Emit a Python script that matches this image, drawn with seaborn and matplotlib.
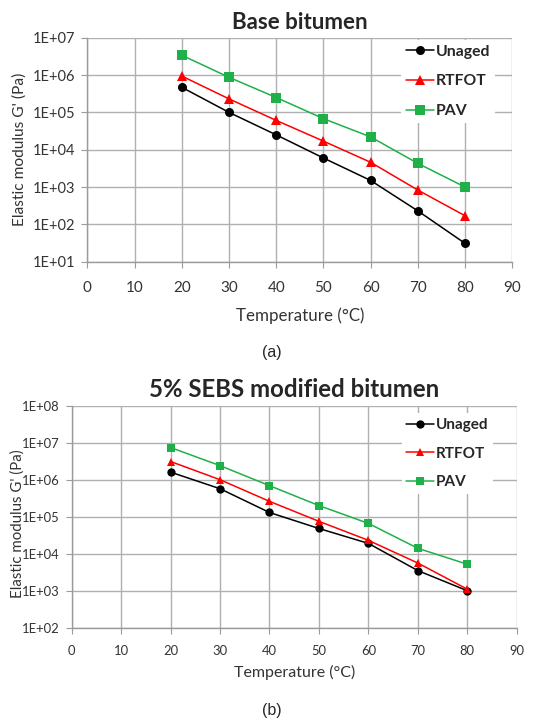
import numpy as np
import pandas as pd
import matplotlib
matplotlib.use("Agg")
import matplotlib.pyplot as plt
import matplotlib.ticker as mticker
import seaborn as sns

temps = [20, 30, 40, 50, 60, 70, 80]
series = ["Unaged", "RTFOT", "PAV"]

base_unaged = [4.7e5, 1.0e5, 2.5e4, 6.0e3, 1.5e3, 2.3e2, 31]
base_rtfot = [9.4e5, 2.3e5, 6.1e4, 1.7e4, 4.6e3, 8.3e2, 1.7e2]
base_pav = [3.4e6, 8.7e5, 2.5e5, 6.8e4, 2.2e4, 4.3e3, 1.0e3]

sebs_unaged = [1.6e6, 5.7e5, 1.3e5, 4.8e4, 1.9e4, 3.5e3, 1.0e3]
sebs_rtfot = [3.1e6, 1.0e6, 2.6e5, 7.5e4, 2.3e4, 5.6e3, 1.1e3]
sebs_pav = [7.4e6, 2.4e6, 6.9e5, 2.0e5, 6.6e4, 1.4e4, 5.2e3]

titles = ["Base bitumen", "5% SEBS modified bitumen"]
captions = ["(a)", "(b)"]
xlabel = "Temperature (°C)"
ylabel = "Elastic modulus G' (Pa)"

def make_df(u, r, p):
    rows = []
    for name, vals in zip(series, [u, r, p]):
        for t, v in zip(temps, vals):
            rows.append({"T": t, "G": v, "Aging": name})
    return pd.DataFrame(rows)

sns.set_style("whitegrid")
plt.rcParams["font.family"] = ["Lato", "DejaVu Sans"]

fig = plt.figure(figsize=(5.44, 7.22), dpi=100)
ax1 = fig.add_axes([0.1605, 0.6375, 0.7812, 0.3103])
ax2 = fig.add_axes([0.1318, 0.1306, 0.818, 0.3075])

palette = {"Unaged": "#000000", "RTFOT": "#ff0000", "PAV": "#1fb04a"}
markers = {"Unaged": "o", "RTFOT": "^", "PAV": "s"}

# ax, data, ylim, ytick size, xtick size, xtick pad, xlabel size, xlabel pad,
# ylabel coords, ylabel size, title size, legend anchor, legend font size, label spacing
configs = [
    (ax1, make_df(base_unaged, base_rtfot, base_pav), (1e1, 1e7), 10.5, 11, 10, 12.2, 9,
     (-0.142, 0.5), 11.2, 16, (0.738, 0.99), 11.3, 1.0),
    (ax2, make_df(sebs_unaged, sebs_rtfot, sebs_pav), (1e2, 1e8), 9.4, 9.4, 8.5, 11.5, 5.5,
     (-0.105, 0.47), 10.8, 17.3, (0.742, 0.965), 11, 0.95),
]

for i, (ax, df, ylim, yts, xts, xpad, xls, xlp, ylc, yls, tsz, lanchor, lfs, lsp) in enumerate(configs):
    sns.lineplot(data=df, x="T", y="G", hue="Aging", style="Aging",
                 palette=palette, markers=markers, dashes=False, ax=ax,
                 linewidth=1.1, markersize=6.5 if i == 0 else 6,
                 markeredgewidth=0)
    ax.set_yscale("log")
    ax.set_ylim(*ylim)
    ax.set_xlim(0, 90)
    ax.set_xticks(range(0, 91, 10))
    ax.yaxis.set_major_locator(mticker.LogLocator(base=10, numticks=20))
    ax.yaxis.set_minor_locator(mticker.NullLocator())
    ax.yaxis.set_major_formatter(mticker.FuncFormatter(
        lambda v, p: "1E+%02d" % int(round(np.log10(v)))))
    ax.grid(True, color="#b0b0b0", linewidth=1.0)
    for s in ["top", "right"]:
        ax.spines[s].set_visible(False)
    for s in ["left", "bottom"]:
        ax.spines[s].set_color("#9a9a9a")
        ax.spines[s].set_linewidth(1.0)
    ax.tick_params(axis="both", which="major", length=4, color="#9a9a9a",
                   labelcolor="#333333", direction="out", left=True, bottom=True)
    ax.tick_params(axis="y", labelsize=yts, pad=4.5)
    ax.tick_params(axis="x", labelsize=xts, pad=xpad)
    ax.set_xlabel(xlabel, fontsize=xls, color="#333333", labelpad=xlp)
    ax.set_ylabel(ylabel, fontsize=yls, color="#333333")
    ax.yaxis.set_label_coords(*ylc)
    ax.set_title(titles[i], fontsize=tsz, fontweight="bold", pad=6)
    handles, labels = ax.get_legend_handles_labels()
    leg = ax.legend(handles, labels, loc="upper left", bbox_to_anchor=lanchor,
                    frameon=True, fancybox=False, framealpha=1, edgecolor="white",
                    prop={"weight": "bold", "size": lfs},
                    handlelength=1.8, handletextpad=0.1, labelspacing=lsp,
                    borderaxespad=0.0, borderpad=0.3)
    leg.get_frame().set_linewidth(0)

fig.text(0.5, 1 - 352 / 722, captions[0], ha="center", va="center", fontsize=11.5,
         family=["Liberation Sans", "DejaVu Sans"])
fig.text(0.5, 1 - 710 / 722, captions[1], ha="center", va="center", fontsize=11.5,
         family=["Liberation Sans", "DejaVu Sans"])

fig.savefig("out.png", dpi=100)
